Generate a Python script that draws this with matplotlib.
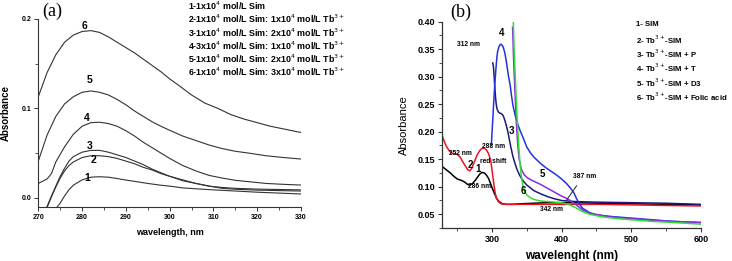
import matplotlib
matplotlib.use("Agg")
import matplotlib.pyplot as plt
from matplotlib.ticker import MultipleLocator

plt.rcParams['font.family'] = ['Liberation Sans', 'DejaVu Sans']

# ---------------- Panel (a) data ----------------
a_x1 = [274.2, 275, 276, 277, 278, 279, 280, 282, 284, 286, 288, 290, 292, 295, 298, 300, 303, 306, 310, 315, 320, 325, 330]
a_y1 = [-0.011, -0.006, 0.002, 0.009, 0.014, 0.017, 0.020, 0.023, 0.0235, 0.023, 0.0215, 0.0198, 0.0183, 0.016, 0.014, 0.013, 0.011, 0.010, 0.0088, 0.0075, 0.0062, 0.0052, 0.0042]

a_x2 = [272, 273, 274, 275, 276, 277, 278, 280, 282, 284, 286, 288, 290, 292, 294, 296, 298, 300, 303, 306, 309, 312, 315, 320, 325, 330]
a_y2 = [-0.011, 0.001, 0.012, 0.022, 0.030, 0.036, 0.040, 0.045, 0.047, 0.047, 0.046, 0.044, 0.041, 0.038, 0.034, 0.031, 0.027, 0.024, 0.020, 0.016, 0.013, 0.0105, 0.0095, 0.0085, 0.008, 0.0075]

a_x3 = [271.9, 273, 274, 275, 276, 277, 278, 280, 282, 284, 286, 288, 290, 292, 294, 296, 298, 300, 303, 306, 309, 312, 315, 320, 325, 330]
a_y3 = [-0.011, 0.002, 0.013, 0.024, 0.033, 0.041, 0.046, 0.051, 0.053, 0.053, 0.051, 0.048, 0.045, 0.041, 0.037, 0.032, 0.028, 0.024, 0.019, 0.016, 0.013, 0.0115, 0.0105, 0.0097, 0.0092, 0.0088]

a_x4 = [270, 272, 273, 274, 276, 278, 280, 282, 284, 286, 288, 290, 292, 294, 296, 298, 300, 303, 306, 309, 312, 315, 318, 322, 326, 330]
a_y4 = [0.016, 0.021, 0.027, 0.040, 0.057, 0.071, 0.080, 0.084, 0.0845, 0.083, 0.080, 0.075, 0.069, 0.062, 0.056, 0.050, 0.044, 0.036, 0.030, 0.025, 0.022, 0.0195, 0.018, 0.016, 0.015, 0.0142]

a_x5 = [270, 272, 274, 276, 278, 280, 282, 284, 286, 288, 290, 292, 294, 296, 298, 300, 303, 306, 309, 312, 315, 318, 322, 326, 330]
a_y5 = [0.041, 0.070, 0.091, 0.105, 0.113, 0.118, 0.1195, 0.118, 0.115, 0.110, 0.104, 0.097, 0.091, 0.085, 0.080, 0.0755, 0.069, 0.064, 0.059, 0.055, 0.052, 0.050, 0.047, 0.045, 0.0433]

a_x6 = [270, 272, 274, 276, 278, 280, 282, 284, 286, 288, 290, 292, 294, 296, 298, 300, 302, 305, 308, 311, 314, 317, 320, 323, 326, 330]
a_y6 = [0.113, 0.140, 0.160, 0.174, 0.182, 0.186, 0.187, 0.185, 0.180, 0.174, 0.168, 0.162, 0.155, 0.148, 0.141, 0.133, 0.126, 0.115, 0.106, 0.100, 0.093, 0.088, 0.084, 0.080, 0.077, 0.073]

a_series = [(a_x1, a_y1), (a_x2, a_y2), (a_x3, a_y3), (a_x4, a_y4), (a_x5, a_y5), (a_x6, a_y6)]
a_curve_labels = ["1", "2", "3", "4", "5", "6"]
a_label_x = [281.2, 282.6, 281.7, 281.1, 281.7, 280.5]
a_label_y = [0.0217, 0.0422, 0.0582, 0.089, 0.132, 0.192]
a_legend = [
    "1-1x10$^{4}$ mol/L Sim",
    "2-1x10$^{4}$ mol/L Sim: 1x10$^{4}$ mol/L Tb$^{3+}$",
    "3-1x10$^{4}$ mol/L Sim: 2x10$^{4}$ mol/L Tb$^{3+}$",
    "4-3x10$^{4}$ mol/L Sim: 1x10$^{4}$ mol/L Tb$^{3+}$",
    "5-1x10$^{4}$ mol/L Sim: 2x10$^{4}$ mol/L Tb$^{3+}$",
    "6-1x10$^{4}$ mol/L Sim: 3x10$^{4}$ mol/L Tb$^{3+}$",
]
a_xticks = [270, 280, 290, 300, 310, 320, 330]
a_yticks = [0.0, 0.1, 0.2]

# ---------------- Panel (b) data ----------------
b_x1 = [228, 232, 236, 240, 245, 250, 255, 260, 265, 268, 272, 276, 280, 283, 286, 289, 292, 295, 298, 301, 304, 307, 310, 315, 320, 330, 340, 360, 380, 400, 420, 450, 500, 550, 600]
b_y1 = [0.137, 0.133, 0.129, 0.125, 0.119, 0.114, 0.112, 0.109, 0.104, 0.103, 0.106, 0.112, 0.119, 0.124, 0.126, 0.125, 0.121, 0.115, 0.105, 0.095, 0.086, 0.078, 0.073, 0.069, 0.068, 0.068, 0.069, 0.070, 0.071, 0.071, 0.071, 0.070, 0.069, 0.068, 0.067]

b_x2 = [228, 231, 234, 238, 242, 246, 250, 254, 258, 262, 265, 268, 271, 275, 279, 283, 286, 289, 292, 295, 298, 300, 302, 304, 306, 309, 313, 320, 340, 360, 380, 400, 420, 450, 500, 550, 600]
b_y2 = [0.194, 0.183, 0.174, 0.166, 0.161, 0.160, 0.159, 0.154, 0.145, 0.137, 0.131, 0.129, 0.134, 0.147, 0.159, 0.167, 0.170, 0.170, 0.167, 0.160, 0.148, 0.130, 0.110, 0.092, 0.080, 0.073, 0.069, 0.068, 0.068, 0.068, 0.068, 0.068, 0.068, 0.068, 0.067, 0.066, 0.065]

b_x3 = [301, 302, 303, 304, 305, 306, 307, 309, 311, 313, 315, 317, 319, 321, 323, 325, 327, 330, 333, 336, 340, 345, 350, 360, 370, 380, 390, 400, 410, 420, 450, 500, 550, 600]
b_y3 = [0.325, 0.318, 0.300, 0.280, 0.262, 0.250, 0.242, 0.236, 0.234, 0.233, 0.231, 0.226, 0.218, 0.209, 0.198, 0.185, 0.172, 0.155, 0.142, 0.131, 0.120, 0.110, 0.103, 0.093, 0.087, 0.082, 0.078, 0.075, 0.074, 0.073, 0.072, 0.071, 0.070, 0.068]

b_x4 = [299, 300, 301, 302, 303, 304, 305, 306, 307, 308, 310, 312, 314, 316, 318, 320, 322, 324, 326, 328, 330, 333, 336, 340, 345, 350, 355, 360, 365, 370, 378, 385, 393, 400, 407, 413, 418, 422, 426, 430, 440, 450, 470, 500, 530, 560, 600]
b_y4 = [0.176, 0.200, 0.221, 0.245, 0.268, 0.288, 0.305, 0.322, 0.336, 0.346, 0.355, 0.359, 0.358, 0.354, 0.345, 0.332, 0.315, 0.298, 0.285, 0.265, 0.248, 0.231, 0.217, 0.203, 0.188, 0.172, 0.162, 0.154, 0.148, 0.142, 0.134, 0.128, 0.121, 0.114, 0.106, 0.097, 0.088, 0.077, 0.068, 0.061, 0.053, 0.049, 0.046, 0.043, 0.040, 0.037, 0.035]

b_x5 = [329.5, 331, 333, 335, 337, 339, 342, 346, 350, 355, 360, 370, 380, 390, 400, 410, 420, 430, 440, 460, 480, 500, 530, 560, 600]
b_y5 = [0.390, 0.330, 0.270, 0.215, 0.175, 0.150, 0.132, 0.122, 0.117, 0.113, 0.110, 0.104, 0.097, 0.090, 0.083, 0.077, 0.068, 0.058, 0.052, 0.047, 0.044, 0.042, 0.039, 0.037, 0.035]

b_x6 = [330.5, 332, 334, 336, 338, 340, 342, 344, 346, 350, 355, 360, 370, 380, 390, 400, 410, 420, 430, 440, 460, 480, 500, 530, 560, 600]
b_y6 = [0.400, 0.340, 0.280, 0.225, 0.180, 0.145, 0.120, 0.104, 0.094, 0.085, 0.080, 0.077, 0.074, 0.073, 0.072, 0.071, 0.068, 0.062, 0.055, 0.050, 0.045, 0.042, 0.040, 0.037, 0.035, 0.032]

b_series = [(b_x1, b_y1), (b_x2, b_y2), (b_x3, b_y3), (b_x4, b_y4), (b_x5, b_y5), (b_x6, b_y6)]
b_colors = ["#000000", "#ee1122", "#1a1a7a", "#2233dd", "#8a2be2", "#33dd33"]
b_legend = [
    "1- SIM",
    "2- Tb$^{3+}$-SIM",
    "3- Tb$^{3+}$-SIM + P",
    "4- Tb$^{3+}$-SIM + T",
    "5- Tb$^{3+}$-SIM + D3",
    "6- Tb$^{3+}$-SIM + Folic acid",
]
b_notes = ["4", "312 nm", "3", "288 nm", "252 nm", "2", "red shift", "1", "286 nm", "5", "6", "387 nm", "342 nm"]
b_note_x = [313.8, 265.8, 328.1, 301.7, 253.9, 268.2, 301.5, 280.0, 282.6, 372.1, 344.8, 433.5, 385.6]
b_note_y = [0.380, 0.359, 0.201, 0.173, 0.160, 0.140, 0.145, 0.133, 0.100, 0.123, 0.092, 0.118, 0.058]
b_note_big = [True, False, True, False, False, True, False, True, False, True, True, False, False]
b_xticks = [300, 400, 500, 600]
b_yticks = [0.05, 0.10, 0.15, 0.20, 0.25, 0.30, 0.35, 0.40]

W, H = 732, 261
fig = plt.figure(figsize=(W / 100, H / 100), dpi=100)

def fx(px):
    return px / W

def fy(py):
    return 1 - py / H

# ---------------- Panel (a) ----------------
axa = fig.add_axes([fx(38.3), fy(207.3), fx(301) - fx(38.3), fy(19) - fy(207.3)])
for (xs, ys) in a_series:
    axa.plot(xs, ys, color="#333333", lw=0.8)
axa.set_xlim(270, 330)
axa.set_ylim(-0.0107, 0.2)
axa.set_xticks(a_xticks)
axa.set_yticks(a_yticks)
axa.set_yticklabels([f"{v:.1f}" for v in a_yticks])
axa.xaxis.set_minor_locator(MultipleLocator(5))
axa.yaxis.set_minor_locator(MultipleLocator(0.05))
for s in ["top", "right"]:
    axa.spines[s].set_visible(False)
for s in ["left", "bottom"]:
    axa.spines[s].set_linewidth(0.8)
    axa.spines[s].set_color("#333333")
axa.tick_params(which="major", direction="out", length=3, width=0.7, labelsize=5, pad=2, colors="#333333")
axa.tick_params(which="minor", direction="out", length=2, width=0.6, colors="#333333")
for lab in axa.get_xticklabels() + axa.get_yticklabels():
    lab.set_fontweight("bold")
    lab.set_color("black")
axa.set_xlabel("wavelength, nm", fontsize=6.5, fontweight="bold", labelpad=5)
axa.set_ylabel("Absorbance", fontsize=7, fontweight="bold", labelpad=8)
for lab, lx, ly in zip(a_curve_labels, a_label_x, a_label_y):
    axa.text(lx, ly, lab, fontsize=7.5, fontweight="bold", ha="center", va="center")
for i, t in enumerate(a_legend):
    fig.text(fx(187.7), fy(6 + 13.2 * i), t, fontsize=6.4, fontweight="bold", ha="left", va="center")
fig.text(fx(52.5), fy(11), "(a)", fontsize=13, family=["Liberation Serif", "DejaVu Serif"], ha="center", va="center")

# ---------------- Panel (b) ----------------
axb = fig.add_axes([fx(442), fy(228), fx(700.7) - fx(442), fy(21.7) - fy(228)])
for (xs, ys), c in zip(b_series, b_colors):
    axb.plot(xs, ys, color=c, lw=1.1)
axb.set_xlim(228, 600)
axb.set_ylim(0.025, 0.40)
axb.set_xticks(b_xticks)
axb.set_yticks(b_yticks)
axb.set_yticklabels([f"{v:.2f}" for v in b_yticks])
axb.xaxis.set_minor_locator(MultipleLocator(50))
axb.yaxis.set_minor_locator(MultipleLocator(0.025))
for s in ["top", "right"]:
    axb.spines[s].set_visible(False)
for s in ["left", "bottom"]:
    axb.spines[s].set_linewidth(0.9)
    axb.spines[s].set_color("#333333")
axb.tick_params(which="major", direction="out", length=3, width=0.8, labelsize=6.5, pad=2, colors="#333333")
axb.tick_params(which="minor", direction="out", length=2, width=0.6, colors="#333333")
for lab in axb.get_xticklabels() + axb.get_yticklabels():
    lab.set_fontweight("bold")
    lab.set_color("black")
axb.set_xlabel("wavelenght (nm)", fontsize=8.5, fontweight="bold", labelpad=4)
axb.set_ylabel("Absorbance", fontsize=8, labelpad=6)
for t, nx, ny, big in zip(b_notes, b_note_x, b_note_y, b_note_big):
    axb.text(nx, ny, t, fontsize=7 if big else 4.8, fontweight="bold", ha="center", va="center")
axb.annotate("", xy=(405, 0.072), xytext=(424, 0.106),
             arrowprops=dict(arrowstyle="-", color="#222222", lw=0.7))
for i, t in enumerate(b_legend):
    fig.text(fx(636), fy(25 + 14.4 * i), t, fontsize=5.6, fontweight="bold", ha="left", va="center")
fig.text(fx(460.5), fy(12), "(b)", fontsize=13, family=["Liberation Serif", "DejaVu Serif"], ha="center", va="center")

fig.savefig("out.png", dpi=100)
